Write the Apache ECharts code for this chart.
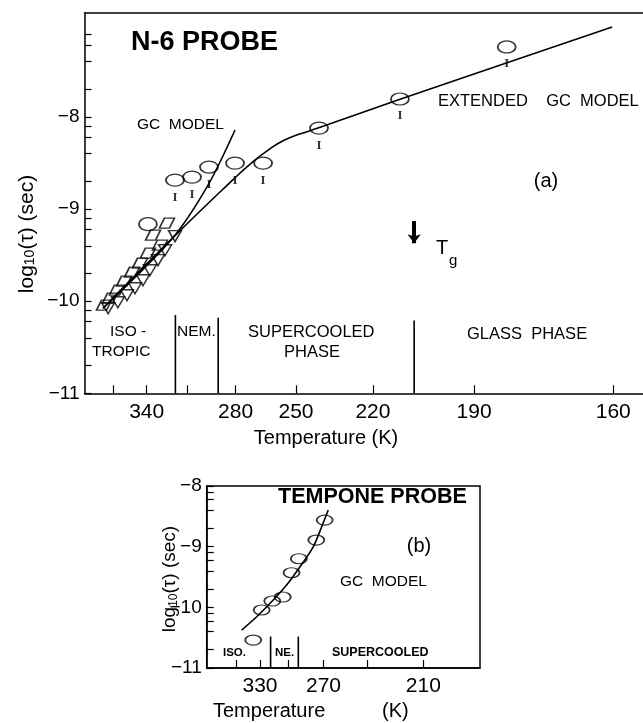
<!DOCTYPE html>
<html><head><meta charset="utf-8">
<script src="https://cdn.jsdelivr.net/npm/echarts@6/dist/echarts.min.js"></script>
<style>html,body{margin:0;padding:0;background:#fff}#c{width:643px;height:723px}</style>
</head><body><div id="c"></div><script>
const FONT = '"Liberation Sans", Arial, sans-serif';
// ---------- Panel (a): N-6 probe (x axis is 1000/T, labelled in K) ----------
const aTickTemps = [370, 340, 310, 280, 250, 220, 190, 160];
const aLabelTemps = [340, 280, 250, 220, 190, 160];
const aYLabels = [-11, -10, -9, -8];
const minorMultipliers = [2, 4, 6, 8];
const aExtT   = [380.1, 320.1, 281.7, 270.9, 262.3, 255.2, 248.4, 240.0, 211.3, 182.1, 160.2];
const aExtLog = [-10.076, -9.315, -8.685, -8.489, -8.348, -8.25, -8.185, -8.114, -7.810, -7.413, -7.022];
const aGcT    = [380.1, 320.1, 296.2, 280.3];
const aGcLog  = [-10.076, -9.315, -8.739, -8.141];
const aEllT   = [318.3, 306.5, 295.6, 280.3, 265.5, 240.2, 211.1, 182.0];
const aEllLog = [-8.685, -8.652, -8.543, -8.50, -8.50, -8.12, -7.804, -7.239];
const aCircT  = [339.0];
const aCircLog= [-9.163];
const aDiaT   = [324.2, 334.9, 329.5, 339.0, 345.6, 352.5, 359.7, 366.3, 373.0, 379.0];
const aDiaLog = [-9.152, -9.283, -9.391, -9.478, -9.587, -9.685, -9.783, -9.880, -9.967, -10.043];
const aTriT   = [318.3, 325.6, 331.0, 337.4, 343.1, 349.9, 357.0, 365.4, 374.9];
const aTriLog = [-9.293, -9.446, -9.554, -9.663, -9.772, -9.859, -9.935, -10.011, -10.076];
const aBoundT = [318, 290, 206.7];
const aBoundTop = [-10.15, -10.18, -10.21];
const aTg = 206.7;
// ---------- Panel (b): Tempone probe ----------
const bTickTemps = [360, 330, 300, 270, 240, 210];
const bLabelTemps = [330, 270, 210];
const bYLabels = [-11, -10, -9, -8];
const bEllT   = [338.0, 328.1, 316.4, 305.7, 297.2, 290.5, 275.7, 269.1];
const bEllLog = [-10.539, -10.044, -9.896, -9.830, -9.430, -9.199, -8.891, -8.562];
const bGcT    = [352.6, 333.9, 316.4, 301.9, 289.5, 278.2, 271.4, 266.4];
const bGcLog  = [-10.374, -10.155, -9.896, -9.633, -9.331, -9.002, -8.672, -8.397];
const bBoundT = [318.2, 291];
const bBoundTop = [-10.48, -10.48];

const inv = t => 1000 / t;
const pts = (T, L) => T.map((t, i) => [inv(t), L[i]]);
function minorTicks(lo, hi) {
  const out = [];
  for (let d = lo; d < hi; d++) for (const k of minorMultipliers) { const v = d + Math.log10(k); if (v <= hi) out.push(v); }
  return out;
}
const ELL = 'path://M0,5a9,5 0 1,0 18,0a9,5 0 1,0 -18,0z';
const TRI = 'path://M0,0L2,0L1,1.8Z';
const PAR = 'path://M1,0L3,0L2,2L0,2Z';
const blk = '#000';
const yFmt = v => (v < 0 ? '\u2212' : '') + Math.round(Math.abs(v));
const tFmt = v => String(Math.round(1000 / v));

function xAxisCfg(grid, min, max, ticks, labels, fs) {
  return { type: 'value', gridIndex: grid, min, max,
    axisLine: { show: true, onZero: false, lineStyle: { color: blk, width: 1.5 } },
    axisTick: { show: true, inside: true, length: 8, customValues: ticks.map(inv), lineStyle: { color: blk, width: 1.2 } },
    axisLabel: { customValues: labels.map(inv), formatter: tFmt, fontSize: fs, fontFamily: FONT, color: blk, margin: 8 },
    splitLine: { show: false } };
}
function yAxisCfg(grid, min, max, labels, fs) {
  const ticks = labels.concat(minorTicks(-11, max));
  return { type: 'value', gridIndex: grid, min, max,
    axisLine: { show: true, onZero: false, lineStyle: { color: blk, width: 1.5 } },
    axisTick: { show: true, inside: true, length: 7, customValues: ticks, lineStyle: { color: blk, width: 1.2 } },
    axisLabel: { customValues: labels, formatter: yFmt, fontSize: fs, fontFamily: FONT, color: blk, margin: 5 },
    splitLine: { show: false } };
}
function lineS(ax, data, smooth) {
  return { type: 'line', xAxisIndex: ax, yAxisIndex: ax, data, smooth, symbol: 'none', silent: true,
    lineStyle: { color: blk, width: 1.6 }, z: 3 };
}
function scat(ax, data, symbol, size, extra) {
  return Object.assign({ type: 'scatter', xAxisIndex: ax, yAxisIndex: ax, data, symbol, symbolSize: size,
    itemStyle: { color: 'rgba(255,255,255,0)', borderColor: blk, borderWidth: 1.5 }, z: 4 }, extra || {});
}
const series = [
  lineS(0, pts(aExtT, aExtLog), 0.5),
  lineS(0, pts(aGcT, aGcLog), 0.3),
  scat(0, pts(aEllT, aEllLog), ELL, [18, 12], { label: { show: true, formatter: 'I', position: 'bottom', distance: 4,
    fontFamily: '"Liberation Serif", serif', fontSize: 13, fontWeight: 'bold', color: blk } }),
  scat(0, pts(aCircT, aCircLog), ELL, [18, 13]),
  scat(0, pts(aDiaT, aDiaLog), PAR, [15, 10]),
  scat(0, pts(aTriT, aTriLog), TRI, [13, 11]),
  lineS(1, pts(bGcT, bGcLog), 0.3),
  scat(1, pts(bEllT, bEllLog), ELL, [16, 10]),
];
aBoundT.forEach((t, i) => series.push(lineS(0, [[inv(t), -11], [inv(t), aBoundTop[i]]], false)));
bBoundT.forEach((t, i) => series.push(lineS(1, [[inv(t), -11], [inv(t), bBoundTop[i]]], false)));
series.push({ type: 'line', xAxisIndex: 0, yAxisIndex: 0, data: [], silent: true,
  markLine: { silent: true, symbol: ['none', 'arrow'], symbolSize: [10, 9], label: { show: false },
    lineStyle: { color: blk, width: 4, type: 'solid' },
    data: [[{ coord: [inv(aTg), -9.13] }, { coord: [inv(aTg), -9.37] }]] } });

function txt(x, y, text, size, o) {
  o = o || {};
  return { type: 'text', x, y, rotation: o.rot || 0, z: 10, silent: true,
    style: { text, fontSize: size, fontFamily: FONT, fontWeight: o.bold ? 'bold' : 'normal', fill: blk,
      align: o.align || 'left', verticalAlign: 'middle', rich: o.rich } };
}
const logRich = s => ({ s: { fontSize: Math.round(s * 0.65), fontFamily: FONT, fill: blk, verticalAlign: 'bottom' },
                        n: { fontSize: s, fontFamily: FONT, fill: blk } });
const graphic = [
  txt(131, 43, 'N-6 PROBE', 27, { bold: true }),
  txt(137, 125, 'GC  MODEL', 15.5),
  txt(438, 101, 'EXTENDED    GC  MODEL', 16.5),
  txt(546, 181, '(a)', 20, { align: 'center' }),
  txt(436, 248, 'T', 20),
  txt(449, 261, 'g', 15),
  txt(110, 332, 'ISO -', 15.5),
  txt(92, 352, 'TROPIC', 15.5),
  txt(177, 332, 'NEM.', 15.5),
  txt(248, 332, 'SUPERCOOLED', 16.5),
  txt(312, 352, 'PHASE', 16.5, { align: 'center' }),
  txt(467, 334, 'GLASS  PHASE', 16.5),
  txt(27, 234, '{n|log}{s|10}{n|(\u03c4) (sec)}', 21, { align: 'center', rot: Math.PI / 2, rich: logRich(21) }),
  txt(326, 438, 'Temperature (K)', 20, { align: 'center' }),
  txt(278, 497, 'TEMPONE PROBE', 21.5, { bold: true }),
  txt(419, 546, '(b)', 20, { align: 'center' }),
  txt(340, 582, 'GC  MODEL', 15.5),
  txt(223, 653, 'ISO.', 11.5, { bold: true }),
  txt(275, 653, 'NE.', 11.5, { bold: true }),
  txt(332, 653, 'SUPERCOOLED', 12.5, { bold: true }),
  txt(170, 579, '{n|log}{s|10}{n|(\u03c4) (sec)}', 19, { align: 'center', rot: Math.PI / 2, rich: logRich(19) }),
  txt(213, 711, 'Temperature', 20),
  txt(382, 711, '(K)', 20),
];

const aXMax = 6.461;
const chart = echarts.init(document.getElementById('c'));
chart.setOption({
  backgroundColor: '#fff',
  animation: false,
  grid: [
    { left: 84.5, top: 13, width: 558.5, height: 380.3, show: false, containLabel: false },
    { left: 206.7, top: 486, width: 273.3, height: 182, show: true, borderColor: blk, borderWidth: 1.5, containLabel: false }
  ],
  xAxis: [
    xAxisCfg(0, 2.5, aXMax, aTickTemps, aLabelTemps, 21),
    xAxisCfg(1, 2.465, 5.363, bTickTemps, bLabelTemps, 21),
    { type: 'value', gridIndex: 0, position: 'top', min: 2.5, max: aXMax,
      axisLine: { show: true, onZero: false, lineStyle: { color: blk, width: 1.5 } },
      axisTick: { show: false }, axisLabel: { show: false }, splitLine: { show: false } }
  ],
  yAxis: [
    yAxisCfg(0, -11, -6.87, aYLabels, 19),
    yAxisCfg(1, -11, -8, bYLabels, 19)
  ],
  series,
  graphic
});
</script></body></html>
